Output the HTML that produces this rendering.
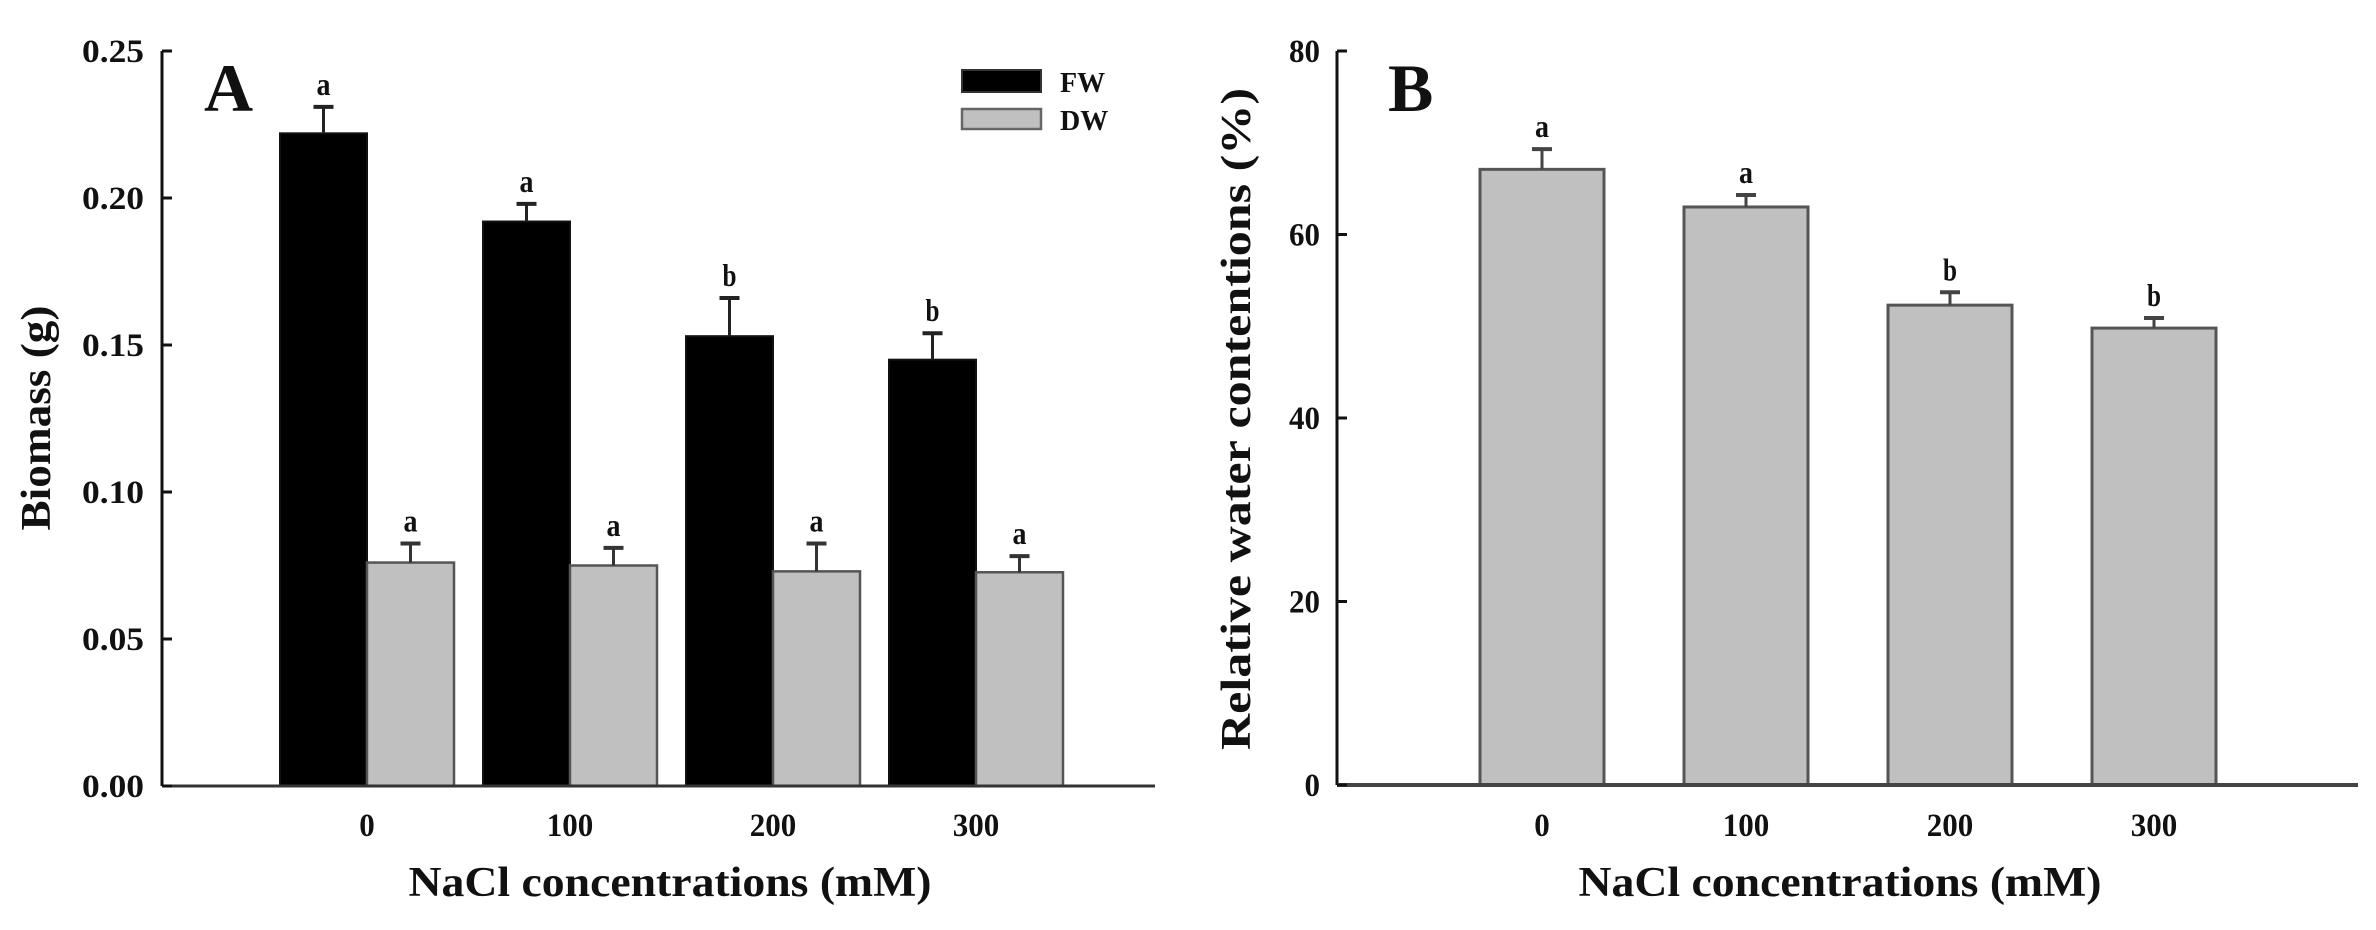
<!DOCTYPE html>
<html><head><meta charset="utf-8"><style>
html,body{margin:0;padding:0;background:#fff;width:2376px;height:930px;overflow:hidden}
text{font-family:"Liberation Serif",serif;font-weight:bold;fill:#111}
</style></head><body>
<svg id="chart" width="2376" height="930" viewBox="0 0 2376 930" xmlns="http://www.w3.org/2000/svg">
<g id="panelA"></g>
<g id="panelB"></g>
</svg>
<script>
const categories = ["0", "100", "200", "300"];
const fwValues = [0.222, 0.192, 0.153, 0.145];
const fwErrors = [0.009, 0.006, 0.013, 0.009];
const fwLetters = ["a", "a", "b", "b"];
const dwValues = [0.076, 0.075, 0.073, 0.0727];
const dwErrors = [0.0065, 0.006, 0.0095, 0.0055];
const dwLetters = ["a", "a", "a", "a"];
const aTicks = ["0.00", "0.05", "0.10", "0.15", "0.20", "0.25"];
const rwcValues = [67.1, 63.0, 52.3, 49.8];
const rwcErrors = [2.2, 1.3, 1.4, 1.1];
const rwcLetters = ["a", "a", "b", "b"];
const bTicks = ["0", "20", "40", "60", "80"];

const NS = "http://www.w3.org/2000/svg";
function mk(parent, tag, attrs, txt) {
  const e = document.createElementNS(NS, tag);
  for (const k in attrs) e.setAttribute(k, attrs[k]);
  if (txt !== undefined) e.textContent = txt;
  parent.appendChild(e);
  return e;
}
function tickText(g, x, y, anchor, s) {
  const t = mk(g, 'text', {x: x, y: y, 'text-anchor': anchor, 'font-size': 33, textLength: s.length * 15.5, lengthAdjust: 'spacingAndGlyphs'}, s);
  return t;
}

// Panel A
const A = document.getElementById('panelA');
const aY0 = 786, aY1 = 51, aMax = 0.25, aX0 = 162, aXEnd = 1155;
const ay = v => aY0 - (v / aMax) * (aY0 - aY1);
const aGroupStart = 280, aGroupStep = 203, aBarW = 87;
const aCenter = i => aGroupStart + i * aGroupStep + aBarW;

function errBar(g, cx, yTop, yBar, color) {
  let l = mk(g, 'line', {x1: cx, x2: cx, y1: yBar, y2: yTop, stroke: color, 'stroke-width': 3});
  
  
  let c = mk(g, 'line', {x1: cx - 10, x2: cx + 10, y1: yTop, y2: yTop, stroke: color, 'stroke-width': 4});
  
  
}
function letter(g, cx, yTop, s) {
  let t = mk(g, 'text', {x: cx, y: yTop - 12, 'text-anchor': 'middle', 'font-size': 32, textLength: 14, lengthAdjust: 'spacingAndGlyphs'}, s);
  
  
}

categories.forEach((c, i) => {
  const fx = aGroupStart + i * aGroupStep;
  const dx = fx + aBarW;
  let r = mk(A, 'rect', {x: fx, y: ay(fwValues[i]), width: aBarW, height: aY0 - ay(fwValues[i]), fill: '#000', stroke: '#111', 'stroke-width': 2});
  
  
  let r2 = mk(A, 'rect', {x: dx, y: ay(dwValues[i]), width: aBarW, height: aY0 - ay(dwValues[i]), fill: '#c0c0c0', stroke: '#555', 'stroke-width': 2.5});
  
  
  const ft = ay(fwValues[i] + fwErrors[i]);
  errBar(A, fx + aBarW / 2, ft, ay(fwValues[i]), '#222');
  letter(A, fx + aBarW / 2, ft, fwLetters[i]);
  const dt = ay(dwValues[i] + dwErrors[i]);
  errBar(A, dx + aBarW / 2, dt, ay(dwValues[i]), '#333');
  letter(A, dx + aBarW / 2, dt, dwLetters[i]);
  let t = tickText(A, aCenter(i), 836, 'middle', c);
  
  
});
let ax = mk(A, 'line', {x1: aX0, x2: aX0, y1: aY1, y2: aY0, stroke: '#111', 'stroke-width': 3});


let axx = mk(A, 'line', {x1: aX0, x2: aXEnd, y1: aY0, y2: aY0, stroke: '#333', 'stroke-width': 3});


aTicks.forEach(tk => {
  const y = ay(parseFloat(tk));
  let l = mk(A, 'line', {x1: aX0, x2: aX0 + 10, y1: y, y2: y, stroke: '#111', 'stroke-width': 3});
  
  
  let t = tickText(A, 144, y + 11, 'end', tk);
  
  
});
let at = mk(A, 'text', {x: 670, y: 896, 'text-anchor': 'middle', 'font-size': 42, textLength: 523, lengthAdjust: 'spacingAndGlyphs'}, 'NaCl concentrations (mM)');


let ayt = mk(A, 'text', {x: 0, y: 0, 'text-anchor': 'middle', 'font-size': 42, textLength: 225, lengthAdjust: 'spacingAndGlyphs', transform: 'translate(50,418) rotate(-90)'}, 'Biomass (g)');


let pa = mk(A, 'text', {x: 204, y: 111, 'font-size': 68}, 'A');


// legend
let lg = mk(A, 'g', {});


let l1 = mk(lg, 'rect', {x: 962, y: 70, width: 79, height: 22, fill: '#000', stroke: '#333', 'stroke-width': 2});


let l1t = mk(lg, 'text', {x: 1060, y: 92, 'font-size': 28}, 'FW');


let l2 = mk(lg, 'rect', {x: 962, y: 109, width: 79, height: 20, fill: '#c0c0c0', stroke: '#666', 'stroke-width': 2.5});


let l2t = mk(lg, 'text', {x: 1060, y: 130, 'font-size': 28}, 'DW');



// Panel B
const B = document.getElementById('panelB');
const bY0 = 785, bY1 = 51, bMax = 80, bX0 = 1337, bXEnd = 2358;
const by = v => bY0 - (v / bMax) * (bY0 - bY1);
const bStart = 1480, bStep = 204, bBarW = 124;
categories.forEach((c, i) => {
  const x = bStart + i * bStep;
  let r = mk(B, 'rect', {x: x, y: by(rwcValues[i]), width: bBarW, height: bY0 - by(rwcValues[i]), fill: '#c0c0c0', stroke: '#555', 'stroke-width': 3});
  
  
  const tt = by(rwcValues[i] + rwcErrors[i]);
  errBar(B, x + bBarW / 2, tt, by(rwcValues[i]), '#444');
  letter(B, x + bBarW / 2, tt, rwcLetters[i]);
  let t = tickText(B, x + bBarW / 2, 836, 'middle', c);
  
  
});
let bx = mk(B, 'line', {x1: bX0, x2: bX0, y1: bY1, y2: bY0, stroke: '#111', 'stroke-width': 3});


let bxx = mk(B, 'line', {x1: bX0, x2: bXEnd, y1: bY0, y2: bY0, stroke: '#444', 'stroke-width': 4});


bTicks.forEach(tk => {
  const y = by(parseFloat(tk));
  let l = mk(B, 'line', {x1: bX0, x2: bX0 + 10, y1: y, y2: y, stroke: '#111', 'stroke-width': 3});
  
  
  let t = tickText(B, 1320, y + 11, 'end', tk);
  
  
});
let bt = mk(B, 'text', {x: 1840, y: 896, 'text-anchor': 'middle', 'font-size': 42, textLength: 523, lengthAdjust: 'spacingAndGlyphs'}, 'NaCl concentrations (mM)');


let byt = mk(B, 'text', {x: 0, y: 0, 'text-anchor': 'middle', 'font-size': 42, textLength: 662, lengthAdjust: 'spacingAndGlyphs', transform: 'translate(1250,419) rotate(-90)'}, 'Relative water contentions (%)');


let pb = mk(B, 'text', {x: 1388, y: 111, 'font-size': 68}, 'B');


</script>
</body></html>
